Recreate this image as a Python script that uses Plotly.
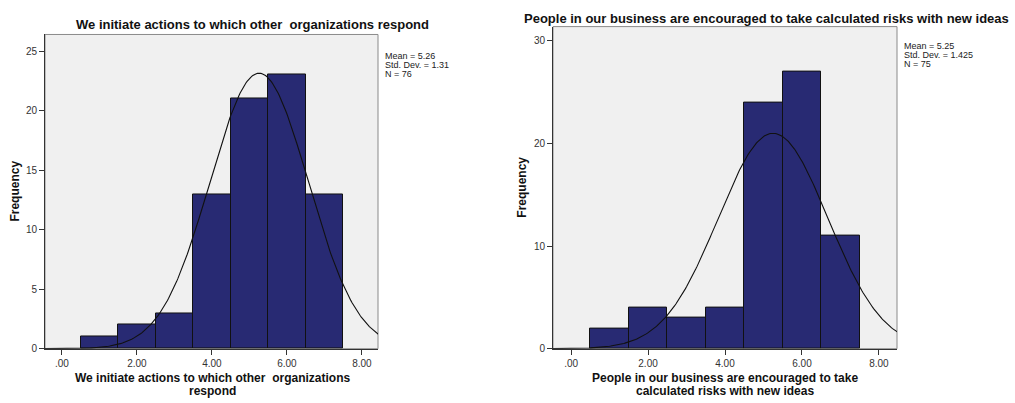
import numpy as np
import plotly.graph_objects as go

# Histogram data (bin centers, counts) and summary statistics
bin_centers = [1, 2, 3, 4, 5, 6, 7]
counts_left = [1, 2, 3, 13, 21, 23, 13]
counts_right = [2, 4, 3, 4, 24, 27, 11]
mean_left, sd_left, n_left = 5.26, 1.31, 76
mean_right, sd_right, n_right = 5.25, 1.425, 75

title_left = "We initiate actions to which other\u00a0 organizations respond"
title_right = "People in our business are encouraged to take calculated risks with new ideas"
xlabel_left = ["We initiate actions to which other\u00a0 organizations", "respond"]
xlabel_right = ["People in our business are encouraged to take", "calculated risks with new ideas"]

tick_vals = [0, 2, 4, 6, 8]
tick_text = [".00", "2.00", "4.00", "6.00", "8.00"]

W, H = 1015, 403
FONT = "Arial, Liberation Sans, sans-serif"
BAR = "#282A73"


def px(x):
    return x / W


def py(y):
    return 1 - y / H


def normal_curve(mean, sd, n):
    xs = np.linspace(-0.6, 8.6, 300)
    ys = n * 1.0 / (sd * np.sqrt(2 * np.pi)) * np.exp(-0.5 * ((xs - mean) / sd) ** 2)
    return xs, ys


fig = go.Figure()

panels = [
    dict(counts=counts_left, mean=mean_left, sd=sd_left, n=n_left, xa="x", ya="y",
         dom_x=(45, 378), dom_y=(35, 354), xr=[-0.45, 8.43], yr=[0, 26.4],
         yt=[0, 5, 10, 15, 20, 25], title=title_left, title_xy=(252, 25),
         xlabel=xlabel_left, xlabel_x=212, ylab_x=15,
         stats_xy=(383, 57), sd_fmt="{:.2f}"),
    dict(counts=counts_right, mean=mean_right, sd=sd_right, n=n_right, xa="x2", ya="y2",
         dom_x=(553, 897), dom_y=(27, 354), xr=[-0.47, 8.47], yr=[0, 31.4],
         yt=[0, 10, 20, 30], title=title_right, title_xy=(766, 19),
         xlabel=xlabel_right, xlabel_x=725, ylab_x=522,
         stats_xy=(902, 47), sd_fmt="{:.3f}"),
]

layout_axes = {}
annotations = []
shapes = []
for i, p in enumerate(panels):
    fig.add_trace(go.Bar(
        x=bin_centers, y=p["counts"], width=1.0, xaxis=p["xa"], yaxis=p["ya"],
        marker=dict(color=BAR, line=dict(color="#111111", width=1)),
        showlegend=False, hoverinfo="x+y"))
    cx, cy = normal_curve(p["mean"], p["sd"], p["n"])
    fig.add_trace(go.Scatter(
        x=cx, y=cy, mode="lines", xaxis=p["xa"], yaxis=p["ya"],
        line=dict(color="#111111", width=1.1), showlegend=False, hoverinfo="skip"))

    sfx = "" if i == 0 else "2"
    x0, x1 = p["dom_x"]
    y0, y1 = p["dom_y"]
    layout_axes["xaxis" + sfx] = dict(
        domain=[px(x0), px(x1)], range=p["xr"], anchor="y" + sfx,
        tickvals=tick_vals, ticktext=tick_text, ticks="outside", ticklen=5,
        tickcolor="#333333", showgrid=False, zeroline=False,
        showline=True, linecolor="#333333", linewidth=1,
        tickfont=dict(family=FONT, size=10, color="#333333"))
    layout_axes["yaxis" + sfx] = dict(
        domain=[py(y1), py(y0)], range=p["yr"], anchor="x" + sfx,
        tickvals=p["yt"], ticks="outside", ticklen=5, tickcolor="#333333",
        showgrid=False, zeroline=False, showline=True, linecolor="#333333",
        linewidth=1, tickfont=dict(family=FONT, size=10, color="#333333"))

    # gray frame around the plotting area
    shapes.append(dict(type="rect", xref="paper", yref="paper",
                       x0=px(x0), x1=px(x1), y0=py(y1), y1=py(y0),
                       line=dict(color="#8a8a8a", width=1), layer="below"))

    annotations.append(dict(text="<b>%s</b>" % p["title"], x=px(p["title_xy"][0]),
                            y=py(p["title_xy"][1]), xref="paper", yref="paper",
                            showarrow=False, xanchor="center", yanchor="middle",
                            font=dict(family=FONT, size=13, color="#111111")))
    for k, line in enumerate(p["xlabel"]):
        annotations.append(dict(text="<b>%s</b>" % line, x=px(p["xlabel_x"]),
                                y=py(384 + 12.5 * k), xref="paper", yref="paper",
                                showarrow=False, xanchor="center", yanchor="middle",
                                font=dict(family=FONT, size=12, color="#111111")))
    annotations.append(dict(text="<b>Frequency</b>", x=px(p["ylab_x"]),
                            y=py((y0 + y1) / 2), xref="paper", yref="paper",
                            showarrow=False, textangle=-90, xanchor="center",
                            yanchor="middle",
                            font=dict(family=FONT, size=12, color="#111111")))
    stats = ["Mean = {:.2f}".format(p["mean"]),
             "Std. Dev. = " + p["sd_fmt"].format(p["sd"]),
             "N = {}".format(p["n"])]
    for k, line in enumerate(stats):
        annotations.append(dict(text=line, x=px(p["stats_xy"][0]),
                                y=py(p["stats_xy"][1] + 9 * k),
                                xref="paper", yref="paper", showarrow=False,
                                xanchor="left", yanchor="middle", align="left",
                                font=dict(family=FONT, size=9, color="#222222")))

fig.update_layout(
    width=W, height=H, margin=dict(l=0, r=0, t=0, b=0),
    paper_bgcolor="white", plot_bgcolor="#F0F0F0",
    bargap=0, annotations=annotations, shapes=shapes, **layout_axes)

fig.write_html("out.html")
